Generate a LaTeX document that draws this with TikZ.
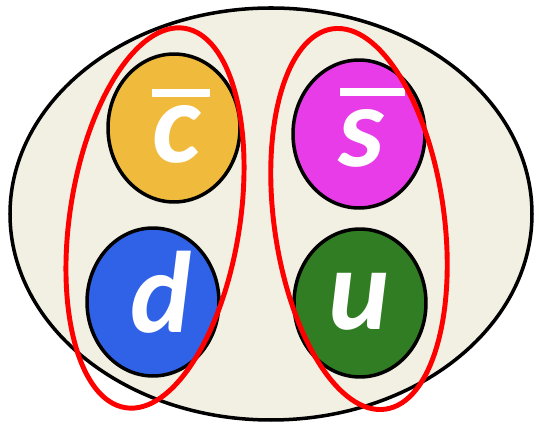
\documentclass[tikz,border=0pt]{standalone}
\usepackage{fontspec}
\newfontfamily\quarkfont{Carlito}
\usepackage{tikz}
\usetikzlibrary{shapes.geometric, positioning, calc}

\definecolor{hadronbg}{RGB}{242,239,227}
\definecolor{charmc}{RGB}{240,186,60}
\definecolor{strangec}{RGB}{232,60,232}
\definecolor{downc}{RGB}{48,98,232}
\definecolor{upc}{RGB}{48,125,35}

\begin{document}
\begin{tikzpicture}[
    x=0.02cm, y=0.02cm,
    hadron/.style={draw=black, line width=2pt, fill=hadronbg},
    quark/.style={ellipse, draw=black, line width=2pt, minimum width=2.64cm, minimum height=2.96cm, inner sep=0pt},
    flavour/.style={anchor=base, text=white, inner sep=0pt, font=\quarkfont\bfseries\itshape\fontsize{66}{66}\selectfont},
    antibar/.style={white, line width=5pt},
    pair/.style={draw=red, line width=2.8pt}
]
\useasboundingbox (0,0) rectangle (539,426);

% hadron bag
\draw[hadron] (271,212) ellipse (261 and 206);

% quarks
\node (cbar) [quark, fill=charmc] at (174,298) {};
\node (sbar) [quark, fill=strangec] at (359,292) {};
\node (d) [quark, fill=downc] at (153,124) {};
\node (u) [quark, fill=upc] at (360,123) {};

% flavour letters
\node (cbar_txt) [flavour] at (176,263) {c};
\node (sbar_txt) [flavour] at (361,259) {s};
\node (d_txt) [flavour] at (161,93) {d};
\node (u_txt) [flavour] at (359,96) {u};
\draw[antibar] ($(cbar)+(-22,35)$) -- ++(58,0);
\draw[antibar] ($(sbar)+(-19,42)$) -- ++(65,0);

% meson pairs
\draw[pair, rotate around={-8.85:(155,208)}] (155,208) ellipse (85 and 192);
\draw[pair, rotate around={7.9:(359,207)}] (359,207) ellipse (85 and 192);

\end{tikzpicture}
\end{document}
